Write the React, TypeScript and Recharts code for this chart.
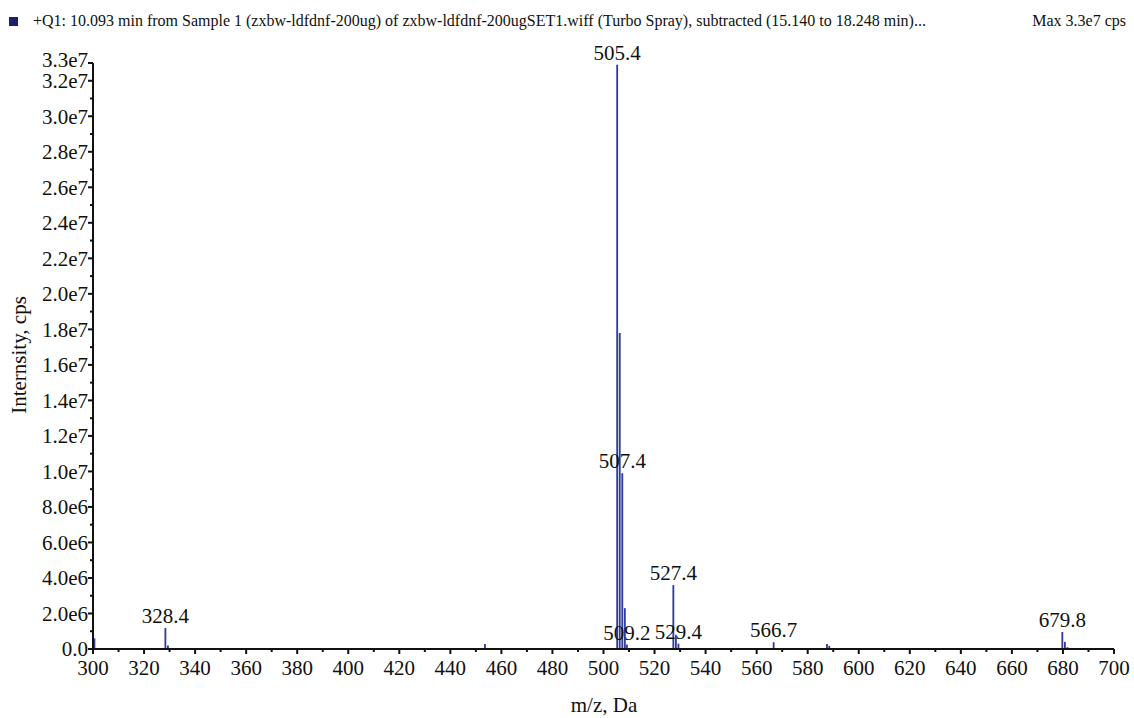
import React from "react";
import {
  ComposedChart,
  Bar,
  XAxis,
  YAxis,
  LabelList,
} from "recharts";

// peak positions (m/z) and intensities (cps)
const mzValues = [
  300.6, 328.4, 329.4, 453.6, 505.4, 506.4, 507.4, 508.4, 509.2, 527.4, 528.4,
  529.4, 566.7, 587.6, 588.5, 679.8, 680.8, 681.8,
];
const intensities = [
  600000, 1180000, 200000, 280000, 32900000, 17800000, 9900000, 2300000,
  250000, 3600000, 800000, 300000, 380000, 280000, 180000, 960000, 400000,
  100000,
];
const peakLabels = [
  "", "328.4", "", "", "505.4", "", "507.4", "", "509.2", "527.4", "", "529.4",
  "566.7", "", "", "679.8", "", "",
];

const xMajorTicks = [300, 320, 340, 360, 380, 400, 420, 440, 460, 480, 500, 520, 540, 560, 580, 600, 620, 640, 660, 680, 700];
const xMinorTicks = [310, 330, 350, 370, 390, 410, 430, 450, 470, 490, 510, 530, 550, 570, 590, 610, 630, 650, 670, 690];
const yMajorTicks = [0, 2e6, 4e6, 6e6, 8e6, 1e7, 1.2e7, 1.4e7, 1.6e7, 1.8e7, 2e7, 2.2e7, 2.4e7, 2.6e7, 2.8e7, 3e7, 3.2e7, 3.3e7];
const yMinorTicks = [1e6, 3e6, 5e6, 7e6, 9e6, 1.1e7, 1.3e7, 1.5e7, 1.7e7, 1.9e7, 2.1e7, 2.3e7, 2.5e7, 2.7e7, 2.9e7, 3.1e7];

const title =
  "+Q1: 10.093 min from Sample 1 (zxbw-ldfdnf-200ug) of zxbw-ldfdnf-200ugSET1.wiff (Turbo Spray), subtracted (15.140 to 18.248 min)...";
const maxText = "Max 3.3e7 cps";
const xTitle = "m/z, Da";
const yTitle = "Internsity, cps";

const serif = "'Liberation Serif', 'DejaVu Serif', serif";
const peakColor = "#2f3c9c";
const ink = "#111";
const fs = 21;

const data = mzValues.map((mz, i) => ({
  mz,
  intensity: intensities[i],
  label: peakLabels[i],
}));

const fmtY = (v: number) => {
  if (v === 0) return "0.0";
  const exp = Math.floor(Math.log10(v) + 1e-9);
  const m = v / Math.pow(10, exp);
  return `${m.toFixed(1)}e${exp}`;
};

const XTick = (props: any) => {
  const { x, y, payload } = props;
  const major = xMajorTicks.includes(payload.value);
  return (
    <g>
      <line x1={x} x2={x} y1={y} y2={y + (major ? 5 : 3)} stroke={ink} strokeWidth={2} />
      {major && (
        <text x={x} y={y + 10} dy="0.75em" textAnchor="middle" fill={ink} fontSize={fs} fontFamily={serif}>
          {payload.value}
        </text>
      )}
    </g>
  );
};

const YTick = (props: any) => {
  const { x, y, payload } = props;
  const major = yMajorTicks.includes(payload.value);
  const lift = payload.value === 3.3e7 ? -3 : 0;
  return (
    <g>
      <line x1={x - (major ? 5 : 3)} x2={x} y1={y} y2={y} stroke={ink} strokeWidth={2} />
      {major && (
        <text x={x - 5} y={y + lift} dy="0.35em" textAnchor="end" fill={ink} fontSize={fs} fontFamily={serif}>
          {fmtY(payload.value)}
        </text>
      )}
    </g>
  );
};

export default function App() {
  return (
    <div
      style={{
        position: "absolute",
        left: 0,
        top: 0,
        width: 1134,
        height: 718,
        background: "#fff",
        fontFamily: serif,
        color: ink,
      }}
    >
      <div
        style={{
          position: "absolute",
          left: 9,
          top: 17,
          width: 9,
          height: 9,
          background: "#1c1f6e",
        }}
      />
      <div style={{ position: "absolute", left: 33, top: 12, fontSize: 16, whiteSpace: "nowrap" }}>
        {title}
      </div>
      <div style={{ position: "absolute", right: 8, top: 12, fontSize: 16, whiteSpace: "nowrap" }}>
        {maxText}
      </div>
      <ComposedChart
        width={1134}
        height={718}
        data={data}
        margin={{ top: 63, right: 20, bottom: 0, left: 0 }}
        style={{ position: "absolute", left: 0, top: 0 }}
      >
        <XAxis
          type="number"
          dataKey="mz"
          domain={[300, 700]}
          ticks={[...xMajorTicks, ...xMinorTicks]}
          interval={0}
          height={69}
          stroke={ink}
          strokeWidth={2}
          tickLine={false}
          tickSize={0}
          tickMargin={0}
          tick={<XTick />}
        />
        <YAxis
          type="number"
          domain={[0, 3.3e7]}
          ticks={[...yMajorTicks, ...yMinorTicks]}
          interval={0}
          width={93}
          stroke={ink}
          strokeWidth={2}
          tickLine={false}
          tickSize={0}
          tickMargin={0}
          tick={<YTick />}
        />
        <Bar dataKey="intensity" barSize={3} fill={peakColor} isAnimationActive={false}>
          <LabelList
            dataKey="label"
            position="top"
            offset={5}
            fill={ink}
            fontSize={fs}
            fontFamily={serif}
          />
        </Bar>
      </ComposedChart>
      <div
        style={{
          position: "absolute",
          left: 604,
          top: 705,
          transform: "translate(-50%, -50%)",
          fontSize: fs,
          whiteSpace: "nowrap",
        }}
      >
        {xTitle}
      </div>
      <div
        style={{
          position: "absolute",
          left: 19,
          top: 355,
          transform: "translate(-50%, -50%) rotate(-90deg)",
          fontSize: fs,
          whiteSpace: "nowrap",
        }}
      >
        {yTitle}
      </div>
    </div>
  );
}
